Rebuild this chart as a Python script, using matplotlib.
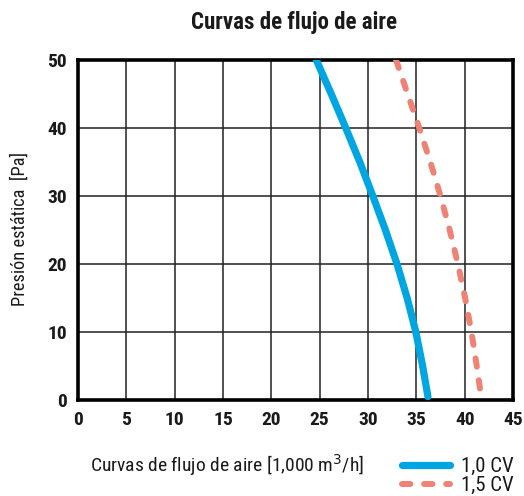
import matplotlib
matplotlib.use("Agg")
import matplotlib.pyplot as plt
from matplotlib import font_manager as fm

allnames = {f.name for f in fm.fontManager.ttflist}

pressure = [50, 45, 40, 35, 30, 25, 20, 15, 10, 5, 0.5]
flow_10 = [24.65, 26.2, 27.7, 29.15, 30.5, 31.8, 33.0, 34.05, 34.95, 35.65, 36.2]
flow_15 = [32.9, 34.1, 35.3, 36.45, 37.5, 38.45, 39.3, 40.05, 40.7, 41.25, 41.7]
xticks = [0, 5, 10, 15, 20, 25, 30, 35, 40, 45]
yticks = [0, 10, 20, 30, 40, 50]

if 'Roboto Condensed' in allnames:
    plt.rcParams['font.family'] = ['Roboto Condensed', 'DejaVu Sans']
else:
    plt.rcParams['font.family'] = ['DejaVu Sans']
    plt.rcParams['font.stretch'] = 'condensed'

fig = plt.figure(figsize=(5.24, 4.96), dpi=100)
ax = fig.add_axes([78/524, 1-400/496, (513-78)/524, (400-60)/496])

blue = '#00A6E2'
red = '#EE8275'
l1, = ax.plot(flow_10, pressure, color=blue, lw=5.2, solid_capstyle='round', solid_joinstyle='round', zorder=3)
l2, = ax.plot(flow_15, pressure, color=red, lw=4.3, dashes=(1.4, 2.3), dash_capstyle='round', zorder=3)

ax.set_xlim(0, 45)
ax.set_ylim(0, 50)
ax.set_xticks(xticks)
ax.set_yticks(yticks)
ax.grid(True, color='#222222', lw=1.1)
ax.set_axisbelow(True)
for s in ax.spines.values():
    s.set_linewidth(2.6)
    s.set_color('black')
ax.tick_params(length=0, pad=8, labelsize=14, labelcolor='#1a1a1a')
for t in ax.get_xticklabels() + ax.get_yticklabels():
    t.set_fontweight('bold')

fig.text(294/524, 1-22/496, 'Curvas de flujo de aire', ha='center', va='center',
         fontsize=16.5, fontweight='bold', color='#1a1a1a')
fig.text(20/524, 1-229/496, 'Presión estática  [Pa]', rotation=90, ha='center', va='center',
         fontsize=13.2, color='#1a1a1a')
fig.text(90/524, 1-465/496, 'Curvas de flujo de aire [1,000 m$^3$/h]', ha='left', va='center',
         fontsize=14, color='#1a1a1a')

leg = fig.legend([l1, l2], ['1,0 CV', '1,5 CV'], loc='center right',
                 bbox_to_anchor=(1.005, 1-476/496), frameon=False, fontsize=15,
                 handlelength=2.3, handletextpad=0.55, labelspacing=0.0, borderpad=0.1)
for t in leg.get_texts():
    t.set_color('#1a1a1a')

fig.savefig('out.png', dpi=100)
